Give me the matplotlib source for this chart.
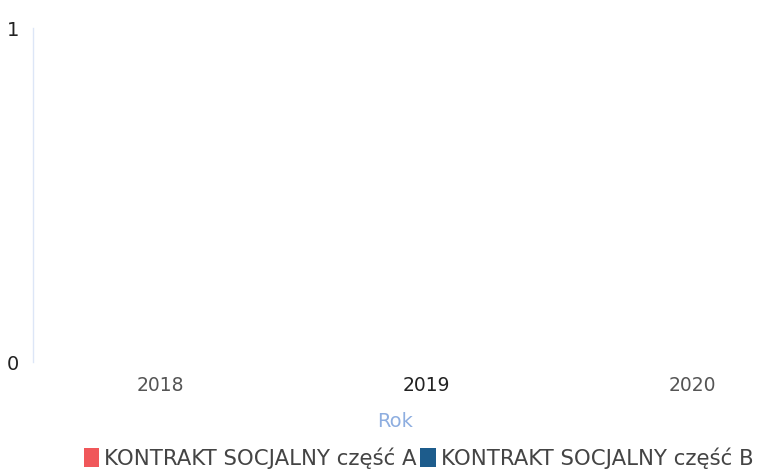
import matplotlib.pyplot as plt
from matplotlib.patches import Patch

plt.rcParams['font.family'] = ['DejaVu Sans']

# data
years = ['2018', '2019', '2020']
part_a = [0, 0, 0]
part_b = [0, 0, 0]
series_names = ['KONTRAKT SOCJALNY część A', 'KONTRAKT SOCJALNY część B']
colors = ['#f0575a', '#1d5c8c']

fig = plt.figure(figsize=(7.58, 4.71), dpi=100)
ax = fig.add_axes([33 / 758, 1 - 362 / 471, (758 - 33) / 758, (362 - 28) / 471])

x = list(range(len(years)))
w = 0.35
ax.bar([i - w / 2 for i in x], part_a, width=w, color=colors[0])
ax.bar([i + w / 2 for i in x], part_b, width=w, color=colors[1])

ax.set_xlim(-0.477, 2.248)
ax.set_ylim(0, 1)
ax.set_yticks([0, 1])
ax.set_yticklabels(['0', '1'], fontsize=14, color='#222222')
ax.set_xticks(x)
ax.set_xticklabels(years, fontsize=13.5)
for lbl, c in zip(ax.get_xticklabels(), ['#555555', '#222222', '#555555']):
    lbl.set_color(c)
ax.tick_params(axis='both', length=0)
ax.tick_params(axis='x', pad=10)
ax.tick_params(axis='y', pad=10)
for s in ['top', 'right', 'bottom']:
    ax.spines[s].set_visible(False)
ax.spines['left'].set_color('#dde6f7')
ax.spines['left'].set_linewidth(1)

ax.set_xlabel('Rok', fontsize=14, color='#8eaee0', labelpad=12)

handles = [Patch(facecolor=colors[0]), Patch(facecolor=colors[1])]
fig.legend(handles, series_names, loc='center', bbox_to_anchor=(0.552, 1 - 458 / 471),
           ncol=2, frameon=False, fontsize=15.3, handlelength=0.75, handleheight=1.0,
           handletextpad=0.2, columnspacing=0.2, labelcolor='#444444')

fig.savefig('out.png', dpi=100, facecolor='white')
